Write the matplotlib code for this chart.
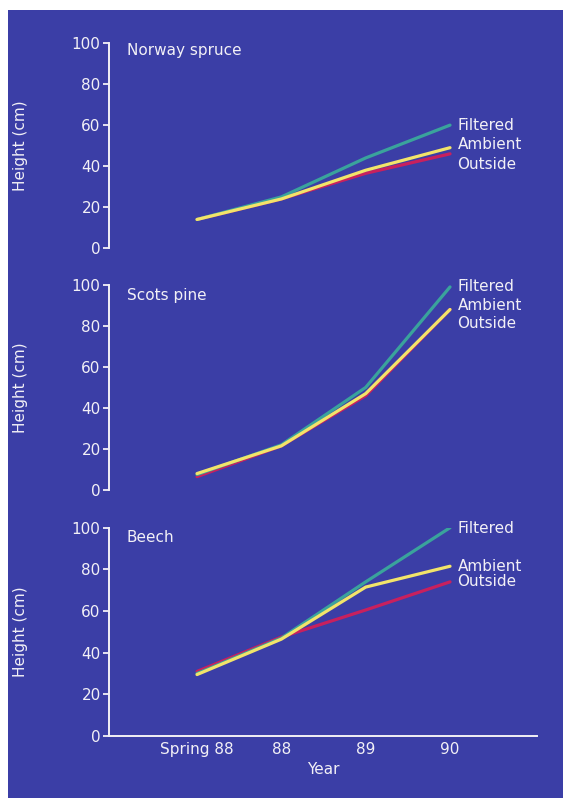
import numpy as np
import matplotlib
matplotlib.use("Agg")
import matplotlib.pyplot as plt

plt.rcParams['font.family'] = ['DejaVu Sans']

# data
years = ['Spring 88', '88', '89', '90']
species = ['Norway spruce', 'Scots pine', 'Beech']
series = ['Filtered', 'Ambient', 'Outside']

spruce_filtered = [14, 25, 44, 60]
spruce_ambient = [14, 24, 38, 49]
spruce_outside = [14, 24, 36.5, 46]

pine_filtered = [7.5, 22, 50, 99]
pine_ambient = [8, 21.5, 47, 88]
pine_outside = [6.5, 21.5, 46, 88]

beech_filtered = [30, 47, 74, 100]
beech_ambient = [29.5, 46.5, 71.5, 81.5]
beech_outside = [31, 47.5, 60.5, 74]

data = [
    [spruce_filtered, spruce_ambient, spruce_outside],
    [pine_filtered, pine_ambient, pine_outside],
    [beech_filtered, beech_ambient, beech_outside],
]
# y positions of the end labels
label_y = [[60, 50.5, 41], [99, 90, 81], [99.5, 81.5, 74]]

bg = '#3b3ea6'
fg = '#f2f0f6'
colors = {'Filtered': '#3aa39c', 'Ambient': '#f2e46a', 'Outside': '#c8205e'}
fs = 11

fig = plt.figure(figsize=(5.63, 7.98), dpi=100)
fig.patch.set_facecolor('white')
# blue plate with white margin top/left
fig.patches.append(plt.Rectangle((8 / 563, 0), 1, 1 - 10 / 798, transform=fig.transFigure,
                                 facecolor=bg, edgecolor='none', zorder=-10))

panels = [(0.689, 0.257), (0.386, 0.257), (0.0777, 0.261)]
title_y = [0.965, 0.95, 0.955]
x = np.arange(len(years))

for i, (bottom, h) in enumerate(panels):
    ax = fig.add_axes([0.1936, bottom, 0.760, h])
    ax.set_facecolor('none')
    # draw order: outside, filtered, ambient on top
    for name in ['Outside', 'Filtered', 'Ambient']:
        vals = data[i][series.index(name)]
        ax.plot(x, vals, color=colors[name], lw=2.3, solid_capstyle='round')
    for j, name in enumerate(series):
        ax.text(3.09, label_y[i][j], name, color=fg, fontsize=fs, va='center', ha='left')
    ax.set_xlim(-1.044, 4.03)
    ax.set_ylim(0, 100)
    ax.set_yticks([0, 20, 40, 60, 80, 100])
    ax.tick_params(axis='y', colors=fg, labelcolor=fg, labelsize=fs, length=4, width=1.3, pad=2)
    ax.spines['left'].set_color(fg)
    ax.spines['left'].set_linewidth(1.4)
    ax.spines['top'].set_visible(False)
    ax.spines['right'].set_visible(False)
    ax.set_ylabel('Height (cm)', color=fg, fontsize=fs)
    ax.yaxis.set_label_coords(-0.19, 0.5)
    ax.text(0.042, title_y[i], species[i], transform=ax.transAxes, color=fg,
            fontsize=fs, va='center', ha='left')
    if i < 2:
        ax.spines['bottom'].set_visible(False)
        ax.set_xticks([])
    else:
        ax.spines['bottom'].set_color(fg)
        ax.spines['bottom'].set_linewidth(1.4)
        ax.set_xticks(x)
        ax.set_xticklabels(years)
        ax.tick_params(axis='x', colors=fg, labelcolor=fg, labelsize=fs, length=0, pad=4)
        ax.set_xlabel('Year', color=fg, fontsize=fs, labelpad=4)

fig.savefig('out.png', dpi=100, facecolor=fig.get_facecolor())
